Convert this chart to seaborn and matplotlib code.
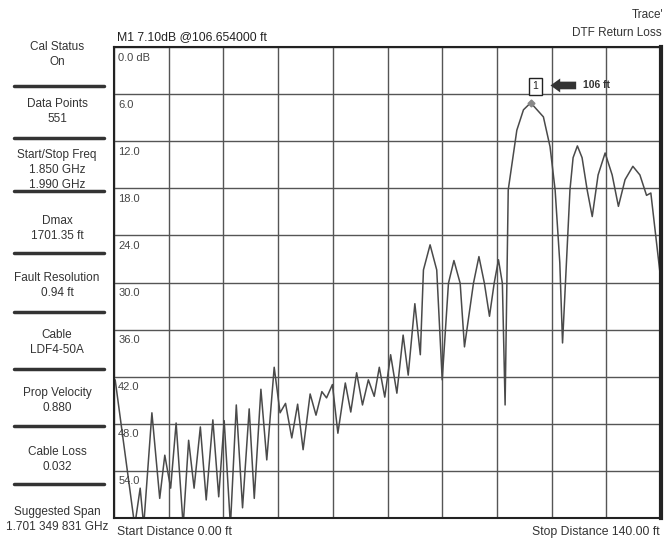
import matplotlib
matplotlib.use("Agg")
import matplotlib.pyplot as plt
import seaborn as sns
import pandas as pd

# DTF return loss trace
dist_ft = [0.3, 5.3, 6.7, 7.6, 9.7, 11.7, 13.0, 14.5, 15.9, 17.7, 19.1, 20.5, 22.1, 23.6,
           25.3, 26.8, 28.2, 29.8, 31.3, 32.9, 34.6, 35.9, 37.6, 39.1, 41.0, 42.5, 43.9,
           45.5, 47.0, 48.4, 50.2, 51.7, 53.2, 54.4, 55.9, 57.3, 59.2, 60.6, 62.1, 63.6,
           65.1, 66.6, 67.9, 69.3, 70.8, 72.4, 74.0, 75.3, 77.0, 78.4, 79.2, 80.9, 82.6,
           84.0, 85.6, 87.0, 88.6, 89.7, 92.0, 93.4, 94.8, 96.1, 97.3, 98.4, 99.4,
           100.1, 100.9, 103.1, 104.8, 106.65, 109.9,
           111.6, 112.9, 114.1, 114.8, 116.7, 117.5, 118.6, 119.8, 121.1, 122.4, 123.9,
           125.7, 127.5, 129.1, 130.8, 132.8, 134.6, 136.3, 137.4, 139.7]
return_loss_db = [42.4, 61, 56.2, 61, 46.6, 57.5, 52.0, 56.2, 47.9, 61, 50.1, 56.2, 48.4, 57.7,
                  47.5, 57.3, 47.6, 61, 45.6, 58.7, 46.1, 57.5, 43.6, 52.6, 40.8, 46.6, 45.4,
                  49.8, 45.5, 51.3, 44.2, 46.9, 43.9, 44.7, 43.0, 49.2, 42.8, 46.5, 41.5, 45.6,
                  42.4, 44.5, 40.8, 44.6, 39.2, 44.1, 36.7, 41.8, 32.7, 39.2, 28.4, 25.2, 28.4,
                  42.4, 30.1, 27.2, 30.1, 38.2, 30.1, 26.7, 30.1, 34.3, 30.1, 27.1, 30.1,
                  45.6, 18.2, 10.6, 8.0, 7.1, 8.9,
                  12.7, 18.2, 27.5, 37.7, 18.2, 14.1, 12.6, 14.1, 18.2, 21.6, 16.3,
                  13.5, 16.3, 20.3, 16.9, 15.2, 16.3, 18.9, 18.6, 28.6]

y_ticks = [0, 6, 12, 18, 24, 30, 36, 42, 48, 54, 60]
y_labels = ["0.0 dB", "6.0", "12.0", "18.0", "24.0", "30.0", "36.0", "42.0", "48.0", "54.0"]
x_ticks = [0, 14, 28, 42, 56, 70, 84, 98, 112, 126, 140]

marker_ft = 106.65
marker_db = 7.1

side_panel = [
    ("Cal Status", "On"),
    ("Data Points", "551"),
    ("Start/Stop Freq", "1.850 GHz", "1.990 GHz"),
    ("Dmax", "1701.35 ft"),
    ("Fault Resolution", "0.94 ft"),
    ("Cable", "LDF4-50A"),
    ("Prop Velocity", "0.880"),
    ("Cable Loss", "0.032"),
    ("Suggested Span", "1.701 349 831 GHz"),
]
panel_y = [47, 104, 155, 221, 278, 335, 393, 452, 512]
sep_y = [86, 138, 191, 253, 312, 369, 426, 484]

sns.set_style("white")
plt.rcParams['font.family'] = ['Liberation Sans', 'DejaVu Sans']

W, H = 665, 543
fig = plt.figure(figsize=(W / 100, H / 100), dpi=100)
ax = fig.add_axes([114 / W, 25 / H, 547 / W, 471 / H])

df = pd.DataFrame({"dist": dist_ft, "rl": return_loss_db})
sns.lineplot(data=df, x="dist", y="rl", sort=False, estimator=None,
             color="#4a4a4a", linewidth=1.1, ax=ax)

ax.set_xlim(0, 140)
ax.set_ylim(60, 0)
ax.set_xticks(x_ticks)
ax.set_yticks(y_ticks)
ax.set_xticklabels([])
ax.set_yticklabels([])
ax.tick_params(length=0)
ax.set_xlabel("")
ax.set_ylabel("")
ax.grid(True, color="#555555", linewidth=1.0)
ax.set_axisbelow(True)
for s in ax.spines.values():
    s.set_color("#222222")
    s.set_linewidth(1.5)
ax.spines['right'].set_linewidth(3)

for v, lbl in zip(y_ticks, y_labels):
    ax.annotate(lbl, xy=(0, v), xycoords=('axes fraction', 'data'),
                xytext=(3, -4), textcoords='offset points',
                ha='left', va='top', fontsize=8, color="#444444")

# marker 1
ax.plot([marker_ft], [marker_db], marker='D', markersize=3.5, color="#888888")
ax.text(107.8, 5.0, "1", ha='center', va='center', fontsize=7.5, color="#222222",
        bbox=dict(boxstyle="square,pad=0.35", fc="white", ec="#222222", lw=1))
ax.annotate("", xy=(111.0, 4.9), xytext=(119.0, 4.9),
            arrowprops=dict(arrowstyle="simple,head_length=0.7,head_width=1.0,tail_width=0.55",
                            color="#333333", lw=0))
ax.text(120.0, 4.9, "106 ft", ha='left', va='center', fontsize=7.5,
        fontweight='bold', color="#333333")

def fy(py):
    return 1 - py / H

txt = dict(fontsize=8.5, color="#333333", ha='center', va='center')
for items, py in zip(side_panel, panel_y):
    for i, t in enumerate(items):
        fig.text(57 / W, fy(py + 15 * i), t, **txt)
for py in sep_y:
    fig.add_artist(plt.Line2D([14 / W, 104 / W], [fy(py), fy(py)],
                              color="#333333", linewidth=2.5))

fig.text(117 / W, fy(37), "M1 7.10dB @106.654000 ft", fontsize=8.8,
         color="#222222", ha='left', va='center')
fig.text(663 / W, fy(15), "Trace'", fontsize=8.5, color="#333333",
         ha='right', va='center')
fig.text(662 / W, fy(33), "DTF Return Loss", fontsize=8.5, color="#333333",
         ha='right', va='center')
fig.text(117 / W, fy(532), "Start Distance 0.00 ft", fontsize=8.8,
         color="#333333", ha='left', va='center')
fig.text(660 / W, fy(532), "Stop Distance 140.00 ft", fontsize=8.8,
         color="#333333", ha='right', va='center')

fig.savefig("out.png", dpi=100)
